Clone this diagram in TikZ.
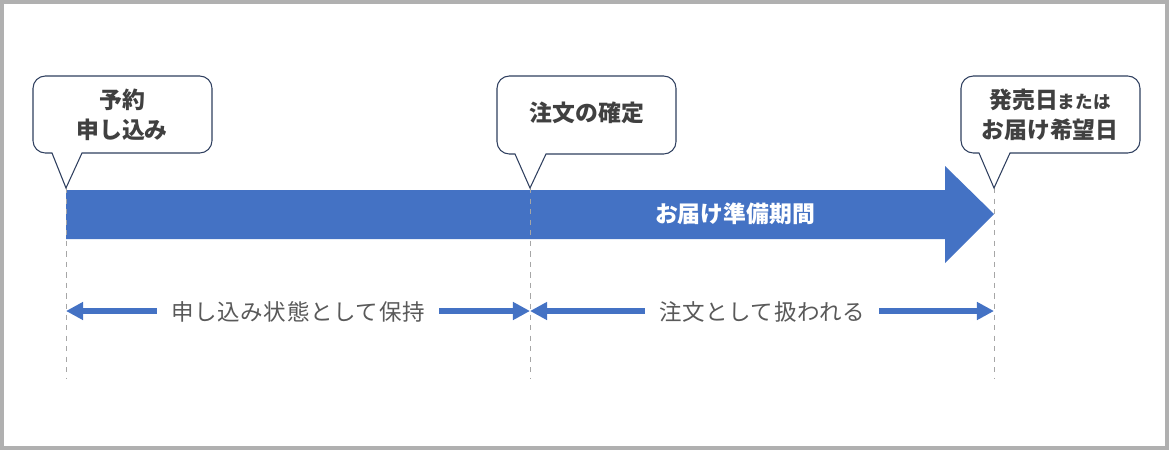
\documentclass[tikz,border=0pt]{standalone}
\usepackage{fontspec}
\usepackage{xcolor}
\usepackage{tikz}
\usetikzlibrary{arrows.meta,positioning,calc}
\newfontfamily\jpfont{Noto Sans CJK JP}
\newfontfamily\jpspaced[LetterSpace=3]{Noto Sans CJK JP}
\definecolor{tblue}{HTML}{4472C4}
\definecolor{tnavy}{HTML}{2F3F5F}
\definecolor{ttext}{HTML}{404040}
\definecolor{tgrey}{HTML}{595959}
\definecolor{tline}{HTML}{A6A6A6}
\definecolor{tframe}{HTML}{B0B0B0}

\tikzset{
  bubble/.style={draw=tnavy,fill=white,line width=0.6pt},
  bubbletext/.style={font=\jpfont\bfseries\fontsize{13}{17}\selectfont,text=ttext,align=center},
  span/.style={tblue,line width=3.4pt,-{Triangle[length=9.7pt,width=9.7pt]}},
  spanlabel/.style={font=\jpspaced\fontsize{12.8}{15}\selectfont,text=tgrey,inner xsep=8pt},
  guide/.style={tline,dashed,line width=0.4pt}
}

\begin{document}
\begin{tikzpicture}[x=0.02cm,y=-0.02cm]
  % frame
  \fill[tframe] (0,0) rectangle (1169,450);
  \fill[white] (4,4) rectangle (1165,446);
  \useasboundingbox (0,0) rectangle (1169,450);

  % points on the time line
  \coordinate (t0) at (66,214);
  \coordinate (t1) at (530,214);
  \coordinate (t2) at (994,214);
  \coordinate (p0) at (66,188);
  \coordinate (p1) at (530,188);
  \coordinate (p2) at (994,188);

  % main arrow
  \fill[tblue] (66,190) -- (945,190) -- (945,166) -- (t2) -- (945,263) -- (945,239) -- (66,239) -- cycle;
  \node[font=\jpfont\bfseries\fontsize{13}{15}\selectfont,text=white] (prep) at (735,214) {お届け準備期間};

  % guides
  \foreach \x in {66,530,994}
    \draw[guide] (\x,188) -- (\x,378);

  % callouts
  \draw[bubble] (52,153) -- (p0) -- (82,153) [rounded corners=7pt] -- (212,153) -- (212,76) -- (33,76) -- (33,153) [sharp corners] -- cycle;
  \node[bubbletext] (reserve) at (122,115) {予約\\申し込み};

  \draw[bubble] (515,154) -- (p1) -- (546,154) [rounded corners=7pt] -- (676,154) -- (676,76) -- (497,76) -- (497,154) [sharp corners] -- cycle;
  \node[bubbletext] (confirm) at (587,113) {注文の確定};

  \draw[bubble] (979,153) -- (p2) -- (1010,153) [rounded corners=7pt] -- (1140,153) -- (1140,76) -- (961,76) -- (961,153) [sharp corners] -- cycle;
  \node[bubbletext] (release) at (1050,115) {発売日{\fontsize{10}{12}\selectfont または}\\お届け希望日};

  % spans below
  \coordinate (a0) at (66,311);
  \coordinate (a1) at (530,311);
  \coordinate (a2) at (994,311);
  \node[spanlabel] (hold) at (298,312) {申し込み状態として保持};
  \draw[span] (hold.west |- a0) -- (a0);
  \draw[span] (hold.east |- a1) -- (a1);
  \node[spanlabel] (order) at (762,312) {注文として扱われる};
  \draw[span] (order.west |- a1) -- (a1);
  \draw[span] (order.east |- a2) -- (a2);
\end{tikzpicture}
\end{document}
